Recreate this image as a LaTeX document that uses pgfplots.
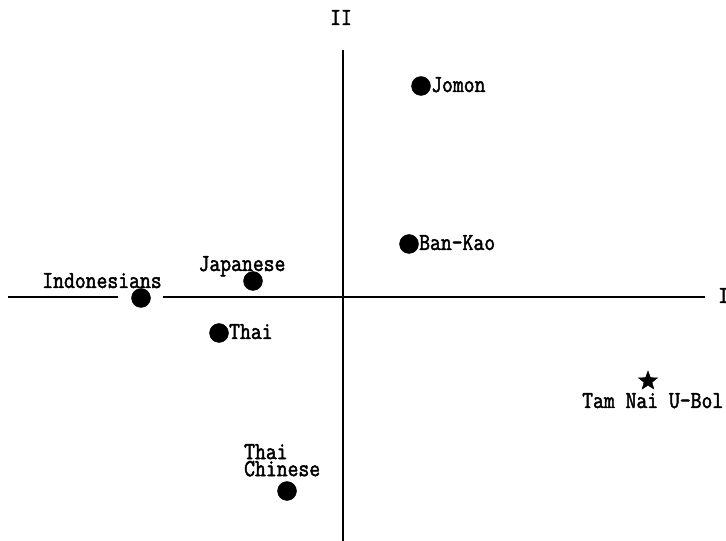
\documentclass[border=0pt]{standalone}
\usepackage{fontspec}
\setmainfont[FakeStretch=0.86,FakeBold=2]{Latin Modern Mono}
\usepackage{pgfplots}
\pgfplotsset{compat=1.18}
\pgfdeclareplotmark{fstar}{%
  \pgfpathmoveto{\pgfqpointpolar{90}{\pgfplotmarksize}}%
  \pgfpathlineto{\pgfqpointpolar{126}{0.42\pgfplotmarksize}}%
  \pgfpathlineto{\pgfqpointpolar{162}{\pgfplotmarksize}}%
  \pgfpathlineto{\pgfqpointpolar{198}{0.42\pgfplotmarksize}}%
  \pgfpathlineto{\pgfqpointpolar{234}{\pgfplotmarksize}}%
  \pgfpathlineto{\pgfqpointpolar{270}{0.42\pgfplotmarksize}}%
  \pgfpathlineto{\pgfqpointpolar{306}{\pgfplotmarksize}}%
  \pgfpathlineto{\pgfqpointpolar{342}{0.42\pgfplotmarksize}}%
  \pgfpathlineto{\pgfqpointpolar{18}{\pgfplotmarksize}}%
  \pgfpathlineto{\pgfqpointpolar{54}{0.42\pgfplotmarksize}}%
  \pgfpathclose\pgfusepathqfillstroke}
\begin{document}
\begin{tikzpicture}
\begin{axis}[at={(0,0)},anchor=south west,scale only axis,width=726pt,height=541pt,
  xmin=0,xmax=726,ymin=0,ymax=541,hide axis,clip=false]
\addplot[black,line width=2.7pt] coordinates {(8,244) (118,244)};
\addplot[black,line width=2.7pt] coordinates {(163,244) (705,244)};
\addplot[black,line width=2.7pt] coordinates {(343,0) (343,491)};
\addplot[only marks,mark=*,mark size=9.5pt,black] coordinates {
(421,455) (409,297) (253,260) (141,243) (219,208) (287,50)};
\addplot[only marks,mark=fstar,mark size=10pt,black,mark options={fill=black}] coordinates {(648,160)};
\end{axis}
\begin{scope}[x=1pt,y=1pt,font=\fontsize{24.5}{17}\selectfont]
\node[anchor=base west,inner sep=0] at (431,449) {Jomon};
\node[anchor=base west,inner sep=0] at (419,291) {Ban-Kao};
\node[anchor=base,inner sep=0] at (242,270) {Japanese};
\node[anchor=base,inner sep=0] at (102,253) {Indonesians};
\node[anchor=base west,inner sep=0] at (229,202) {Thai};
\node[anchor=north west,inner sep=0,align=left] at (244,97) {Thai\\Chinese};
\node[anchor=base west,inner sep=0] at (582,133) {Tam Nai U-Bol};
\node[anchor=base,inner sep=0] at (341,516) {II};
\node[anchor=base west,inner sep=0] at (718,238) {I};
\end{scope}
\pgfresetboundingbox
\useasboundingbox (0,0) rectangle (726pt,541pt);
\end{tikzpicture}
\end{document}
